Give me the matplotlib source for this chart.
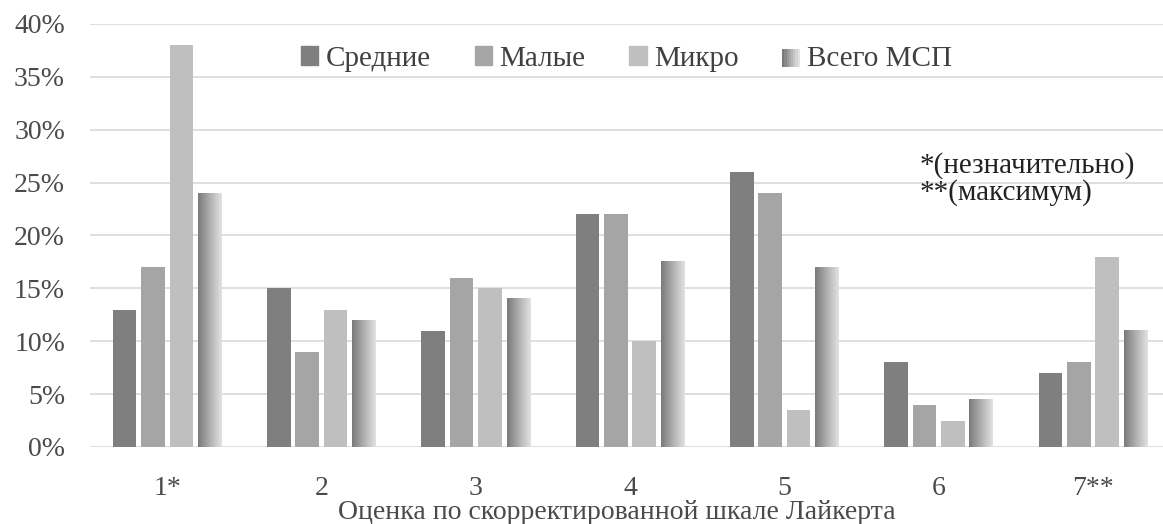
import matplotlib
matplotlib.use("Agg")
import matplotlib.pyplot as plt
import matplotlib.patches as mpatches
from matplotlib.legend_handler import HandlerBase
from matplotlib.colors import LinearSegmentedColormap
import numpy as np

categories = ["1*", "2", "3", "4", "5", "6", "7**"]
series = ["Средние", "Малые", "Микро", "Всего МСП"]
srednie = [13, 15, 11, 22, 26, 8, 7]
malye = [17, 9, 16, 22, 24, 4, 8]
mikro = [38, 13, 15, 10, 3.5, 2.5, 18]
vsego = [24, 12, 14, 17.5, 17, 4.5, 11]
yticks = [0, 5, 10, 15, 20, 25, 30, 35, 40]

COLORS = ["#7f7f7f", "#a5a5a5", "#bfbfbf"]
GRAD = LinearSegmentedColormap.from_list("g", ["#7a7a7a", "#b0b0b0", "#e2e2e2"])
TXT = "#4a4a4a"
FS = 20
plt.rcParams["font.family"] = ["Liberation Serif", "DejaVu Serif"]


class GradHandler(HandlerBase):
    def create_artists(self, legend, orig, xd, yd, w, h, fs, trans):
        n = 8
        arts = []
        for i in range(n):
            r = mpatches.Rectangle((xd + w * i / n, yd), w / n + 0.2, h,
                                   facecolor=GRAD(i / (n - 1)), edgecolor="none",
                                   transform=trans)
            arts.append(r)
        return arts


fig = plt.figure(figsize=(11.63, 5.24), dpi=100)
ax = fig.add_axes([90 / 1163, 1 - 447 / 524, 1 - 90 / 1163, (447 - 24) / 524])

x = np.arange(len(categories))
step, width = 0.184, 0.153
offs = (np.arange(4) - 1.5) * step
for vals, col, off in zip([srednie, malye, mikro], COLORS, offs[:3]):
    ax.bar(x + off, vals, width, color=col, zorder=2)

grad = np.linspace(0, 1, 64).reshape(1, -1)
bars = ax.bar(x + offs[3], vsego, width, color="none", zorder=2)
for b in bars:
    x0, y0, bw, bh = b.get_x(), b.get_y(), b.get_width(), b.get_height()
    ax.imshow(grad, cmap=GRAD, aspect="auto", extent=[x0, x0 + bw, y0, y0 + bh],
              zorder=2, interpolation="bilinear")

ax.set_xlim(-0.5, -0.5 + 1073 / 154.3)
ax.set_ylim(0, 40)
ax.set_yticks(yticks)
ax.set_yticklabels([f"{v}%" for v in yticks], fontsize=FS, color=TXT)
ax.set_xticks(x)
ax.set_xticklabels(categories, fontsize=FS, color=TXT)
ax.tick_params(length=0, axis="y", pad=18)
ax.tick_params(length=0, axis="x", pad=21)
ax.grid(axis="y", color="#d9d9d9", lw=1.2, zorder=0)
for s in ax.spines.values():
    s.set_visible(False)

fig.text(617 / 1163, 1 - 519 / 524, "Оценка по скорректированной шкале Лайкерта",
         fontsize=FS, color=TXT, ha="center", va="baseline")

handles = [mpatches.Patch(color=c) for c in COLORS] + [mpatches.Patch(color="#aaaaaa")]
ax.legend(handles, series, loc="upper center", bbox_to_anchor=(0.5, 1.01), ncol=4,
          frameon=False, fontsize=FS + 1, handlelength=0.6, handleheight=0.6,
          handletextpad=0.25, columnspacing=1.5, labelcolor="#404040",
          handler_map={handles[3]: GradHandler()})

fig.text(920 / 1163, 1 - 166 / 524, "*(незначительно)", fontsize=FS + 1, color="#222222",
         va="center", ha="left")
fig.text(920 / 1163, 1 - 193 / 524, "**(максимум)", fontsize=FS + 1, color="#222222",
         va="center", ha="left")

fig.savefig("out.png", dpi=100, facecolor="white")
